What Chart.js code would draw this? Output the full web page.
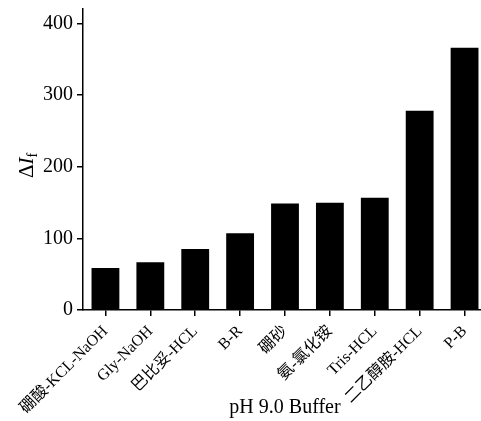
<!DOCTYPE html>
<html>
<head>
<meta charset="utf-8">
<script src="https://cdn.jsdelivr.net/npm/chart.js@4"></script>
<style>
  html, body { margin: 0; padding: 0; background: #fff; overflow: hidden; }
  #wrap { width: 490px; height: 421px; }
</style>
</head>
<body>
<div id="wrap"><canvas id="bufferChart" width="490" height="421"></canvas></div>
<script>
const buffers = ["硼酸-KCL-NaOH", "Gly-NaOH", "巴比妥-HCL", "B-R", "硼砂", "氨-氯化铵", "Tris-HCL", "二乙醇胺-HCL", "P-B"];
const deltaIf = [58.5, 66.5, 85, 107, 148.5, 149.5, 156.5, 278, 366];
const yTicks = [0, 100, 200, 300, 400];

const serif = "'Liberation Serif', 'Times New Roman', 'Noto Sans CJK SC', serif";

// y axis title: ΔIf with italic I and subscript f
const yTitlePlugin = {
  id: "yTitle",
  afterDraw: function (chart) {
    const ctx = chart.ctx;
    const area = chart.chartArea;
    ctx.save();
    ctx.fillStyle = "#000";
    ctx.textBaseline = "alphabetic";
    ctx.font = "21px " + serif;
    const wD = ctx.measureText("Δ").width;
    ctx.font = "italic 21px " + serif;
    const wI = ctx.measureText("I").width;
    ctx.font = "14px " + serif;
    const wF = ctx.measureText("f").width;
    const total = wD + wI + wF;
    ctx.translate(33, (area.top + area.bottom) / 2 + 6);
    ctx.rotate(-Math.PI / 2);
    let x = -total / 2;
    ctx.font = "21px " + serif;
    ctx.fillText("Δ", x, 0);
    x += wD;
    ctx.font = "italic 21px " + serif;
    ctx.fillText("I", x, 0);
    x += wI;
    ctx.font = "14px " + serif;
    ctx.fillText("f", x, 4);
    ctx.restore();
  },
};

const ctx = document.getElementById("bufferChart").getContext("2d");
new Chart(ctx, {
  type: "bar",
  data: {
    labels: buffers,
    datasets: [
      {
        data: deltaIf,
        backgroundColor: "#000",
        borderWidth: 0,
        barPercentage: 0.62,
        categoryPercentage: 1,
      },
    ],
  },
  options: {
    responsive: false,
    animation: false,
    layout: { padding: { top: 9, left: 0, right: 3, bottom: 0 } },
    plugins: {
      legend: { display: false },
      tooltip: { enabled: false },
    },
    scales: {
      x: {
        grid: {
          offset: false,
          drawOnChartArea: false,
          drawTicks: true,
          tickLength: 6,
          color: "#000",
          lineWidth: 1.5,
        },
        border: { color: "#000", width: 1.5 },
        ticks: {
          color: "#000",
          font: { family: serif, size: 16 },
          minRotation: 45,
          maxRotation: 45,
          autoSkip: false,
          padding: 6,
        },
        title: {
          display: true,
          text: "pH 9.0 Buffer",
          color: "#000",
          font: { family: serif, size: 20 },
          padding: { top: 0, bottom: 1 },
        },
        afterFit: function (scale) {
          scale.height = 111;
          scale.paddingLeft = 0;
          scale.paddingRight = 0;
        },
      },
      y: {
        min: 0,
        max: 420,
        grid: {
          drawOnChartArea: false,
          drawTicks: true,
          tickLength: 6,
          color: "#000",
          lineWidth: 1.5,
        },
        border: { color: "#000", width: 1.5 },
        ticks: {
          color: "#000",
          font: { family: serif, size: 20 },
          padding: 4,
        },
        afterBuildTicks: function (scale) {
          scale.ticks = yTicks.map((v) => ({ value: v }));
        },
        afterFit: function (scale) {
          scale.width = 83;
          scale.paddingTop = 0;
          scale.paddingBottom = 0;
        },
      },
    },
  },
  plugins: [yTitlePlugin],
});
</script>
</body>
</html>
